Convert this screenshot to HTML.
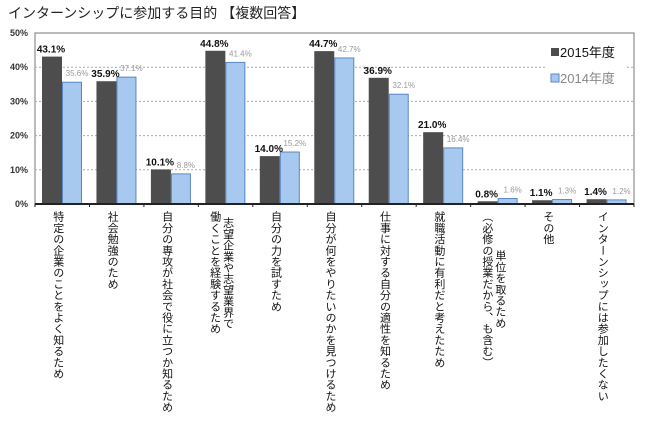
<!DOCTYPE html>
<html><head><meta charset="utf-8">
<style>
body{margin:0;background:#fff;width:650px;height:422px;overflow:hidden;font-family:"Liberation Sans","Noto Sans CJK JP",sans-serif;}
#wrap{position:relative;width:650px;height:422px;}
.cl{position:absolute;top:211px;writing-mode:vertical-rl;text-align:center;font-size:11px;line-height:13px;letter-spacing:0.2px;color:#111;transform:translateX(-50%);white-space:nowrap;}
</style></head>
<body>
<div id="wrap">
<svg id="svg" width="650" height="422" style="position:absolute;left:0;top:0">
<text x="8" y="18" font-size="14" fill="#222" font-family="Liberation Sans, Noto Sans CJK JP, sans-serif">インターンシップに参加する目的 【複数回答】</text>
</svg>
</div>
<script>
const categories=["特定の企業のことをよく知るため","社会勉強のため","自分の専攻が社会で役に立つか知るため","志望企業や志望業界で\n働くことを経験するため","自分の力を試すため","自分が何をやりたいのかを見つけるため","仕事に対する自分の適性を知るため","就職活動に有利だと考えたため","単位を取るため\n（必修の授業だから、も含む）","その他","インターンシップには参加したくない"];
const values2015=[43.1,35.9,10.1,44.8,14.0,44.7,36.9,21.0,0.8,1.1,1.4];
const values2014=[35.6,37.1,8.8,41.4,15.2,42.7,32.1,16.4,1.6,1.3,1.2];
const yTicks=[0,10,20,30,40,50];
const seriesNames=["2015年度","2014年度"];

const NS="http://www.w3.org/2000/svg";
const svg=document.getElementById('svg');
const wrap=document.getElementById('wrap');
const X0=35,X1=634,Y0=204,Y1=33;
const cw=(X1-X0)/categories.length;
const y=v=>Y0-(v/50)*(Y0-Y1);
function el(t,a){const e=document.createElementNS(NS,t);for(const k in a)e.setAttribute(k,a[k]);svg.appendChild(e);return e;}

const border=el('rect',{x:X0,y:Y1,width:X1-X0,height:Y0-Y1,fill:'none',stroke:'#777','stroke-width':1});


yTicks.forEach(t=>{
  if(t>0&&t<50){const g=el('line',{x1:X0,x2:X1,y1:y(t),y2:y(t),stroke:'#aaa','stroke-dasharray':'2,2'});
  
  }
  const tx=el('text',{x:28,y:y(t)+3,'text-anchor':'end','font-size':9,'font-weight':'bold',fill:'#333'});
  tx.textContent=t+'%';
  
  
});
categories.forEach((c,i)=>{
  const cx=X0+i*cw;
  const b1=el('rect',{x:cx+7,y:y(values2015[i]),width:20,height:Y0-y(values2015[i]),fill:'#4d4d4d'});
  
  
  const b2=el('rect',{x:cx+27.5,y:y(values2014[i]),width:19,height:Y0-y(values2014[i]),fill:'#a7c9ef',stroke:'#5b86c0','stroke-width':1});
  
  
  const l1=el('text',{x:cx+16,y:y(values2015[i])-4,'text-anchor':'middle','font-size':10,'font-weight':'bold',fill:'#111'});
  l1.textContent=values2015[i].toFixed(1)+'%';
  
  
  const l2=el('text',{x:cx+42,y:y(values2014[i])-6,'text-anchor':'middle','font-size':8,fill:'#999'});
  l2.textContent=values2014[i].toFixed(1)+'%';
  
  
  const tk=el('line',{x1:cx,x2:cx,y1:Y0,y2:Y0+3,stroke:'#222'});
  
  
  const d=document.createElement('div');
  d.className='cl';
  d.style.left=(cx+cw/2-5)+'px';
  d.innerHTML=c.split('\n').join('<br>');
  
  
  wrap.appendChild(d);
});
const tkEnd=el('line',{x1:X1,x2:X1,y1:Y0,y2:Y0+3,stroke:'#222'});


const ax=el('line',{x1:X0,x2:X1,y1:Y0,y2:Y0,stroke:'#222','stroke-width':2});


// legend
const lb=el('rect',{x:547,y:43,width:78,height:44,fill:'#fff'});


const cols=[['#4d4d4d','none','#111'],['#a7c9ef','#5b86c0','#888']];
seriesNames.forEach((s,i)=>{
  const m=el('rect',{x:551,y:48+i*26,width:8,height:8,fill:cols[i][0],stroke:cols[i][1]});
  
  
  const t=el('text',{x:560,y:57+i*26,'font-size':13,fill:cols[i][2]});
  t.textContent=s;
  
  
});
</script>
</body></html>
